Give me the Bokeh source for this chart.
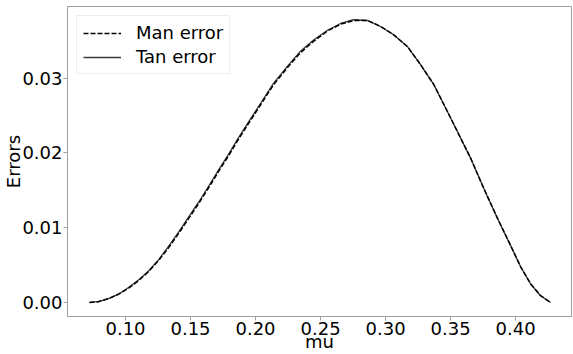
from bokeh.plotting import figure
from bokeh.models import Range1d, Legend, LegendItem, FixedTicker
from bokeh.embed import file_html
from bokeh.resources import INLINE

# error curves against mu
mu = [0.0723, 0.0792, 0.0869, 0.0946, 0.1023, 0.1100, 0.1177, 0.1254, 0.1331, 0.1408,
      0.1485, 0.1562, 0.1638, 0.1715, 0.1792, 0.1854, 0.1938, 0.2038, 0.2138, 0.2246,
      0.2346, 0.2446, 0.2554, 0.2654, 0.2754, 0.2862, 0.2962, 0.3062, 0.3169, 0.3269,
      0.3369, 0.3462, 0.3554, 0.3654, 0.3754, 0.3862, 0.3962, 0.4038, 0.4115, 0.4192,
      0.4269]
tan_error = [0.0000, 0.0001, 0.0005, 0.0011, 0.0020, 0.0030, 0.0042, 0.0057, 0.0075, 0.0094,
             0.0114, 0.0134, 0.0155, 0.0177, 0.0198, 0.0216, 0.0239, 0.0266, 0.0293, 0.0316,
             0.0336, 0.0351, 0.0364, 0.0373, 0.0378, 0.0377, 0.0369, 0.0358, 0.0342, 0.0318,
             0.0292, 0.0260, 0.0228, 0.0193, 0.0153, 0.0112, 0.0076, 0.0048, 0.0025, 0.0009,
             0.0000]
man_error = [0.0000, 0.0001, 0.0005, 0.0011, 0.0019, 0.0029, 0.0041, 0.0056, 0.0073, 0.0092,
             0.0112, 0.0132, 0.0153, 0.0175, 0.0196, 0.0214, 0.0237, 0.0264, 0.0291, 0.0314,
             0.0334, 0.0349, 0.0363, 0.0372, 0.0377, 0.0377, 0.0369, 0.0358, 0.0342, 0.0318,
             0.0292, 0.0260, 0.0228, 0.0193, 0.0153, 0.0112, 0.0076, 0.0048, 0.0025, 0.0009,
             0.0000]

x_ticks = [0.10, 0.15, 0.20, 0.25, 0.30, 0.35, 0.40]
y_ticks = [0.00, 0.01, 0.02, 0.03]

FONT = "DejaVu Sans"
SPINE = "#a0a0a0"

p = figure(width=573, height=354, output_backend="svg", toolbar_location=None,
           x_range=Range1d(0.0554, 0.443), y_range=Range1d(-0.00188, 0.03957),
           min_border_left=20, min_border_right=2, min_border_top=6, min_border_bottom=20)

p.xgrid.visible = False
p.ygrid.visible = False
p.outline_line_color = SPINE
p.outline_line_width = 1

tan = p.line(mu, tan_error, line_color="#3a3a3a", line_width=1.3, line_join="round")
man = p.line(mu, man_error, line_color="black", line_width=1.5, line_dash="5 2",
             line_join="round")

for ax in (p.xaxis[0], p.yaxis[0]):
    ax.axis_line_color = SPINE
    ax.major_tick_line_color = SPINE
    ax.minor_tick_line_color = None
    ax.major_tick_out = 4
    ax.major_tick_in = 0
    ax.major_label_text_font = FONT
    ax.major_label_text_font_size = "18px"
    ax.major_label_text_color = "black"
    ax.axis_label_text_font = FONT
    ax.axis_label_text_font_size = "18px"
    ax.axis_label_text_font_style = "normal"
    ax.axis_label_text_color = "black"
    ax.axis_label_text_line_height = 1.0

p.yaxis[0].major_label_standoff = 1
p.yaxis[0].axis_label_standoff = -5
p.xaxis[0].major_label_standoff = 1
p.xaxis[0].axis_label_standoff = -7
p.xaxis[0].major_label_text_line_height = 1.0

p.xaxis[0].ticker = FixedTicker(ticks=x_ticks)
p.yaxis[0].ticker = FixedTicker(ticks=y_ticks)
p.xaxis[0].major_label_overrides = {t: f"{t:.2f}" for t in x_ticks}
p.yaxis[0].major_label_overrides = {t: f"{t:.2f}" for t in y_ticks}
p.xaxis[0].axis_label = "mu"
p.yaxis[0].axis_label = "Errors"

legend = Legend(items=[LegendItem(label="Man error", renderers=[man]),
                       LegendItem(label="Tan error", renderers=[tan])],
                location="top_left")
legend.label_text_font = FONT
legend.label_text_font_size = "18px"
legend.label_text_color = "black"
legend.border_line_color = "#dddddd"
legend.border_line_width = 1
legend.background_fill_alpha = 0.8
legend.glyph_width = 38
legend.glyph_height = 20
legend.label_height = 20
legend.label_standoff = 15
legend.spacing = 3
legend.padding = 6
legend.margin = 9
p.add_layout(legend)

open("out.html", "w").write(file_html(p, INLINE))
